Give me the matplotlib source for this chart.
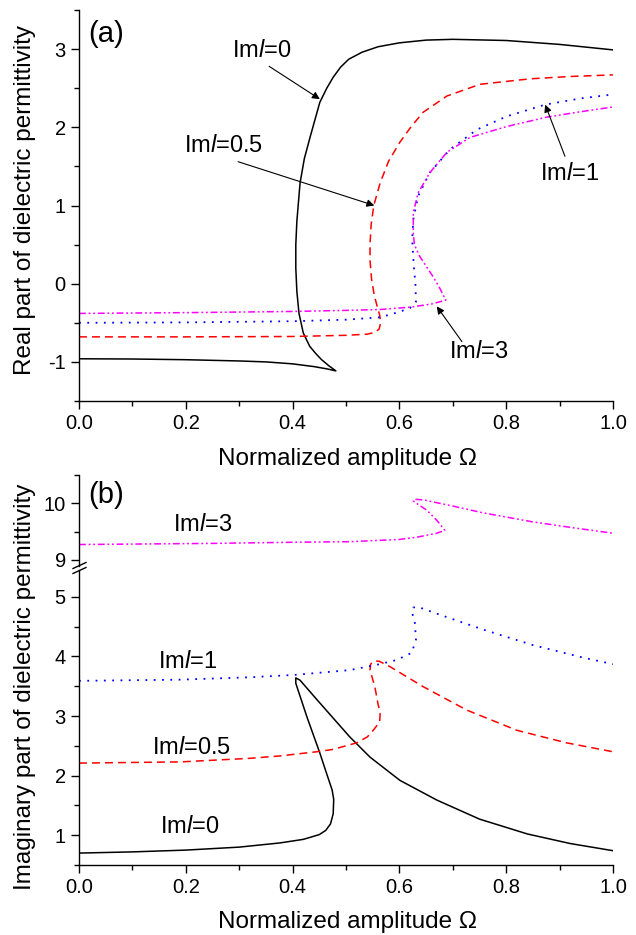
import matplotlib
matplotlib.use("Agg")
import matplotlib.pyplot as plt
from matplotlib.lines import Line2D
from matplotlib.ticker import MultipleLocator

plt.rcParams['font.family'] = ['Liberation Sans', 'DejaVu Sans']
plt.rcParams['mathtext.fontset'] = 'custom'
plt.rcParams['mathtext.rm'] = 'Liberation Sans'
plt.rcParams['mathtext.it'] = 'Liberation Sans:italic'
plt.rcParams['axes.unicode_minus'] = False

# ---------------- data: panel (a) real part ----------------
a0_x = [0, 0.1, 0.2, 0.3, 0.35, 0.4, 0.44, 0.465, 0.481, 0.468, 0.454, 0.443, 0.432, 0.42,
        0.412, 0.408, 0.406, 0.406, 0.408, 0.414, 0.422, 0.433, 0.451, 0.464, 0.476, 0.49,
        0.505, 0.53, 0.56, 0.6, 0.65, 0.7, 0.8, 0.9, 1.0]
a0_y = [-0.96, -0.963, -0.972, -0.988, -1.0, -1.025, -1.06, -1.09, -1.115, -1.05, -0.97, -0.89,
        -0.80, -0.63, -0.38, -0.1, 0.2, 0.5, 0.8, 1.29, 1.6, 1.88, 2.32, 2.5, 2.64, 2.77,
        2.87, 2.96, 3.03, 3.08, 3.115, 3.125, 3.11, 3.06, 2.99]

a1_x = [0, 0.2, 0.4, 0.5, 0.54, 0.555, 0.562, 0.565, 0.563, 0.558, 0.553, 0.548, 0.545, 0.545,
        0.547, 0.552, 0.564, 0.58, 0.601, 0.62, 0.644, 0.689, 0.751, 0.845, 0.92, 1.0]
a1_y = [-0.68, -0.68, -0.675, -0.66, -0.645, -0.62, -0.58, -0.5, -0.4, -0.28, -0.15, 0.05, 0.3,
        0.5, 0.75, 1.0, 1.29, 1.57, 1.81, 1.99, 2.19, 2.40, 2.55, 2.62, 2.65, 2.67]

a2_x = [0, 0.2, 0.4, 0.5, 0.564, 0.6, 0.62, 0.631, 0.63, 0.627, 0.624, 0.626, 0.635, 0.657,
        0.695, 0.745, 0.801, 0.873, 0.94, 1.0]
a2_y = [-0.50, -0.495, -0.48, -0.46, -0.43, -0.36, -0.31, -0.23, 0.0, 0.22, 0.56, 0.82, 1.12,
        1.42, 1.72, 1.97, 2.14, 2.29, 2.37, 2.42]

a3_x = [0, 0.2, 0.4, 0.507, 0.564, 0.62, 0.66, 0.687, 0.675, 0.663, 0.638, 0.628, 0.626, 0.626,
        0.635, 0.657, 0.689, 0.732, 0.801, 0.876, 0.94, 1.0]
a3_y = [-0.38, -0.37, -0.355, -0.34, -0.33, -0.30, -0.26, -0.21, -0.05, 0.09, 0.35, 0.5, 0.65,
        0.91, 1.16, 1.42, 1.68, 1.87, 2.01, 2.13, 2.2, 2.26]

# ---------------- data: panel (b) imaginary part ----------------
b0_x = [0, 0.1, 0.2, 0.3, 0.376, 0.42, 0.45, 0.462, 0.471, 0.476, 0.477, 0.474, 0.462, 0.451,
        0.427, 0.41, 0.406, 0.406, 0.414, 0.446, 0.507, 0.545, 0.601, 0.67, 0.75,
        0.84, 0.92, 1.0]
b0_y = [0.70, 0.72, 0.75, 0.80, 0.87, 0.93, 1.01, 1.08, 1.19, 1.36, 1.6, 1.76, 2.08, 2.38,
        2.98, 3.44, 3.55, 3.64, 3.6, 3.27, 2.65, 2.31, 1.92, 1.59, 1.27, 1.02, 0.86, 0.74]

b1_x = [0, 0.19, 0.32, 0.376, 0.445, 0.476, 0.52, 0.54, 0.551, 0.563, 0.564, 0.56, 0.554,
        0.545, 0.546, 0.552, 0.562, 0.582, 0.645, 0.726, 0.82, 0.913, 1.0]
b1_y = [2.21, 2.23, 2.29, 2.33, 2.40, 2.44, 2.55, 2.65, 2.76, 2.90, 3.05, 3.2, 3.49, 3.77,
        3.87, 3.92, 3.92, 3.83, 3.49, 3.10, 2.76, 2.55, 2.40]

b2_x = [0, 0.19, 0.32, 0.404, 0.507, 0.558, 0.595, 0.623, 0.631, 0.629, 0.624, 0.626, 0.635,
        0.682, 0.757, 0.85, 0.944, 1.0]
b2_y = [3.59, 3.61, 3.65, 3.69, 3.77, 3.86, 3.94, 4.06, 4.28, 4.56, 4.73, 4.82, 4.83, 4.68,
        4.45, 4.19, 3.98, 3.87]

b3_x = [0, 0.25, 0.4, 0.507, 0.6, 0.633, 0.67, 0.685, 0.67, 0.651, 0.635, 0.626, 0.628,
        0.645, 0.7, 0.757, 0.85, 0.93, 1.0]
b3_y = [9.27, 9.29, 9.31, 9.32, 9.36, 9.40, 9.47, 9.52, 9.70, 9.88, 9.98, 10.04, 10.07,
        10.06, 9.95, 9.83, 9.67, 9.56, 9.47]

labels = ['Im$\\mathit{l}$=0', 'Im$\\mathit{l}$=0.5', 'Im$\\mathit{l}$=1', 'Im$\\mathit{l}$=3']
x_ticks = [0.0, 0.2, 0.4, 0.6, 0.8, 1.0]

# ---------------- styles ----------------
LW = 1.1
styles = [
    dict(color='black', lw=1.1, ls='-'),
    dict(color='#ff0000', lw=LW, ls=(0, (5.2, 3.3))),
    dict(color='#0000ff', lw=1.3, ls=(0, (1.0, 3.6))),
    dict(color='#ff00ff', lw=LW, ls=(0, (4.5, 1.8, 1.2, 1.8, 1.2, 1.8))),
]

W, H = 636, 935
fig = plt.figure(figsize=(W / 100, H / 100), dpi=100)

def fx(px):
    return px / W

def fy(py):
    return 1 - py / H

L, R = 79, 613
TICKFS = 14.5
LABFS = 17.5
ANNFS = 17

def style_axis(ax, show_x=True):
    for s in ['top', 'right']:
        ax.spines[s].set_visible(False)
    for s in ['left', 'bottom']:
        ax.spines[s].set_linewidth(1.0)
    ax.tick_params(which='both', direction='out', width=1.0, labelsize=TICKFS)
    ax.tick_params(which='major', length=6)
    ax.tick_params(which='minor', length=3.5)
    ax.set_xlim(0, 1.0)
    if show_x:
        ax.set_xticks(x_ticks)
        ax.set_xticklabels(['%.1f' % t for t in x_ticks])
        ax.xaxis.set_minor_locator(MultipleLocator(0.1))

# ---------------- panel (a) ----------------
axa = fig.add_axes([fx(L), fy(401), fx(R - L), (401 - 10) / H])
style_axis(axa)
axa.set_ylim(-1.5, 3.5)
axa.yaxis.set_major_locator(MultipleLocator(1))
axa.yaxis.set_minor_locator(MultipleLocator(0.5))
for (xs, ys), st in zip([(a0_x, a0_y), (a1_x, a1_y), (a2_x, a2_y), (a3_x, a3_y)], styles):
    axa.plot(xs, ys, **st)

axa.text(0.017, 3.19, '(a)', fontsize=21, ha='left', va='center')
arr = dict(arrowstyle='-|>', lw=0.8, color='black', mutation_scale=11, shrinkA=0, shrinkB=0)
axa.annotate('', xy=(0.451, 2.36), xytext=(0.356, 2.78), arrowprops=arr)
axa.text(0.343, 2.97, labels[0], fontsize=ANNFS, ha='center', va='center')
axa.annotate('', xy=(0.553, 1.0), xytext=(0.298, 1.56), arrowprops=arr)
axa.text(0.270, 1.76, labels[1], fontsize=ANNFS, ha='center', va='center')
axa.annotate('', xy=(0.873, 2.29), xytext=(0.910, 1.63), arrowprops=arr)
axa.text(0.919, 1.40, labels[2], fontsize=ANNFS, ha='center', va='center')
axa.annotate('', xy=(0.670, -0.29), xytext=(0.717, -0.74), arrowprops=arr)
axa.text(0.749, -0.87, labels[3], fontsize=ANNFS, ha='center', va='center')

fig.text(fx(348), fy(459), 'Normalized amplitude \u03a9', fontsize=LABFS, ha='center', va='center')
fig.text(fx(25), fy(200), 'Real part of dielectric permittivity', fontsize=LABFS,
         rotation=90, ha='center', va='center')

# ---------------- panel (b) ----------------
up_top, up_bot = 475, 566
lo_top, lo_bot = 570, 865
axu = fig.add_axes([fx(L), fy(up_bot), fx(R - L), (up_bot - up_top) / H])
axl = fig.add_axes([fx(L), fy(lo_bot), fx(R - L), (lo_bot - lo_top) / H])
style_axis(axl)
style_axis(axu, show_x=False)
axu.spines['bottom'].set_visible(False)
axu.tick_params(axis='x', which='both', bottom=False, labelbottom=False)
axu.set_xticks([])
axu.set_ylim(8.89, 10.5)
axu.set_yticks([9, 10])
axu.yaxis.set_minor_locator(MultipleLocator(0.5))
axl.set_ylim(0.5, 5.45)
axl.yaxis.set_major_locator(MultipleLocator(1))
axl.yaxis.set_minor_locator(MultipleLocator(0.5))
for ax in (axu, axl):
    ax.patch.set_alpha(0)

for (xs, ys), st in zip([(b0_x, b0_y), (b1_x, b1_y), (b2_x, b2_y)], styles[:3]):
    axl.plot(xs, ys, **st)
axu.plot(b3_x, b3_y, **styles[3])

axu.text(0.017, 10.14, '(b)', fontsize=21, ha='left', va='center')
axu.text(0.232, 9.61, labels[3], fontsize=ANNFS, ha='center', va='center')
axl.text(0.204, 3.91, labels[2], fontsize=ANNFS, ha='center', va='center')
axl.text(0.211, 2.46, labels[1], fontsize=ANNFS, ha='center', va='center')
axl.text(0.208, 1.13, labels[0], fontsize=ANNFS, ha='center', va='center')

# axis break marks on the left spine
for dy in (-2.5, 2.5):
    yc = 568 + dy
    fig.add_artist(Line2D([fx(73), fx(86)], [fy(yc + 3), fy(yc - 3)],
                          color='black', lw=1.0, transform=fig.transFigure))

fig.text(fx(348), fy(922), 'Normalized amplitude \u03a9', fontsize=LABFS, ha='center', va='center')
fig.text(fx(25), fy(687), 'Imaginary part of dielectric permittivity', fontsize=LABFS,
         rotation=90, ha='center', va='center')

fig.savefig('out.png', dpi=100, facecolor='white')
